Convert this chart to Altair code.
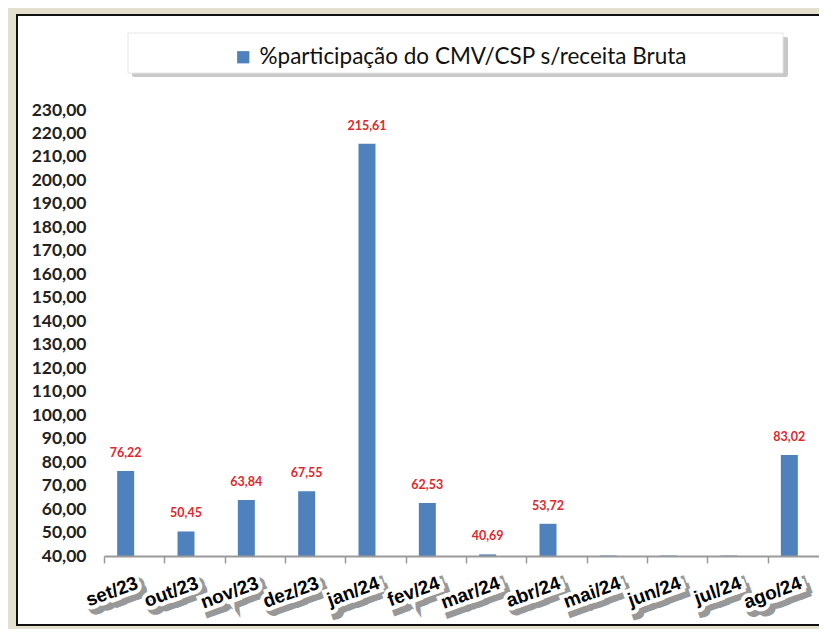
import altair as alt
import pandas as pd

categorias = ["set/23", "out/23", "nov/23", "dez/23", "jan/24", "fev/24",
              "mar/24", "abr/24", "mai/24", "jun/24", "jul/24", "ago/24"]
valores = [76.22, 50.45, 63.84, 67.55, 215.61, 62.53,
           40.69, 53.72, 40.2, 40.2, 40.2, 83.02]
mostrar_rotulo = [True, True, True, True, True, True,
                  True, True, False, False, False, True]
serie = "%participação do CMV/CSP s/receita Bruta"
y_ticks = list(range(40, 231, 10))

df = pd.DataFrame({
    "mes": categorias,
    "valor": valores,
    "rotulo": [f"{v:.2f}".replace(".", ",") if m else "" for v, m in zip(valores, mostrar_rotulo)],
    "serie": [serie] * len(categorias),
})

deco = pd.DataFrame({"k": [0]})

W, H = 715, 446
xscale = alt.Scale(domain=categorias, range=[0, 724], paddingInner=0, paddingOuter=0)
yscale = alt.Scale(domain=[40, 230], zero=False, nice=False)

xaxis = alt.Axis(labels=False, title=None, domainColor="#9a9a9a",
                 domainWidth=2, tickColor="#9a9a9a", tickSize=7, tickWidth=1.5,
                 tickBand="extent", zindex=1)
yaxis = alt.Axis(values=y_ticks, title=None,
                 labelExpr="replace(format(datum.value, '.2f'), '.', ',')",
                 labelFont="Lato", labelFontWeight="bold", labelFontSize=17.5,
                 labelColor="#222222", domain=False, ticks=False, grid=False,
                 labelPadding=18, labelOverlap=False, zindex=1)

X = alt.X("mes:N", scale=xscale, sort=categorias, title=None, axis=xaxis)
Y = alt.Y("valor:Q", scale=yscale, title=None, axis=yaxis)

frame = alt.Chart(deco).mark_rect(fill="white", stroke="#111111", strokeWidth=2).encode(
    x=alt.value(-87), x2=alt.value(760), y=alt.value(-95), y2=alt.value(515))

shadow = alt.Chart(deco).mark_rect(fill="#9a9a9a", opacity=0.55, cornerRadius=2).encode(
    x=alt.value(28), x2=alt.value(684), y=alt.value(-73), y2=alt.value(-33))

legbox = alt.Chart(deco).mark_rect(fill="white", stroke="#e6e6e6", strokeWidth=1).encode(
    x=alt.value(24), x2=alt.value(679), y=alt.value(-77), y2=alt.value(-37))

bars = alt.Chart(df).mark_bar(size=17, xOffset=-8.5).encode(
    x=X,
    y=Y,
    y2=alt.datum(40),
    color=alt.Color("serie:N", scale=alt.Scale(range=["#4F81BD"]), title=None,
                    legend=alt.Legend(orient="none", legendX=128, legendY=-64,
                                      symbolType="square", symbolSize=150,
                                      symbolStrokeWidth=0, labelFont="Lato",
                                      labelFontSize=22.5, labelColor="#111111",
                                      labelOffset=5, labelLimit=700, zindex=2)),
)

labels = alt.Chart(df).mark_text(xOffset=-8.5, dy=-11, baseline="bottom", font="Lato",
                                 fontWeight="bold", fontSize=12.5, color="#E3262B").encode(
    x=X,
    y=Y,
    text="rotulo:N",
)

tick_common = dict(angle=340, align="right", baseline="top", font="Liberation Sans",
                   fontWeight="bold", fontSize=19)

xlab_shadow = alt.Chart(df).mark_text(color="#000000", stroke="#000000", strokeWidth=9,
                                      strokeJoin="miter", opacity=0.4, dx=3, dy=6,
                                      **tick_common).encode(
    x=X, y=alt.value(H + 18), text="mes:N",
)
xlab_halo = alt.Chart(df).mark_text(color="#ffffff", stroke="#ffffff", strokeWidth=8,
                                    strokeJoin="miter", **tick_common).encode(
    x=X, y=alt.value(H + 18), text="mes:N",
)
xlab = alt.Chart(df).mark_text(color="#000000", **tick_common).encode(
    x=X, y=alt.value(H + 18), text="mes:N",
)

chart = alt.layer(frame, shadow, legbox, bars, labels, xlab_shadow, xlab_halo, xlab).properties(
    width=W, height=H,
    autosize=alt.AutoSizeParams(type="none"),
    padding={"left": 96, "top": 102, "right": 0, "bottom": 73},
    background="#E4E0CE",
).configure_view(stroke=None)

chart.save("out.html", embed_options={"renderer": "svg", "actions": False})
